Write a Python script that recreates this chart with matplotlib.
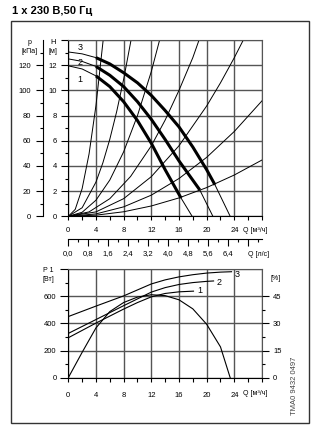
import matplotlib
matplotlib.use("Agg")

import matplotlib.pyplot as plt
from matplotlib.ticker import MultipleLocator, FixedLocator, FuncFormatter
from matplotlib.patches import Rectangle

plt.rcParams["font.family"] = ["Liberation Sans Narrow", "Liberation Sans", "DejaVu Sans"]
plt.rcParams["font.size"] = 5.5

W, H = 322, 432

# --- pump curves H(Q), Q in m3/h, H in m ---
q_c1 = [0, 2, 4, 6, 8, 10, 12, 14, 16.3, 17.9]
h_c1 = [11.95, 11.7, 11.15, 10.3, 9.1, 7.6, 5.8, 3.7, 1.45, 0]
q_c2 = [0, 2, 4, 6, 8, 10, 12, 14, 16, 19, 20.9]
h_c2 = [12.5, 12.3, 11.9, 11.2, 10.3, 9.1, 7.7, 6.1, 4.4, 2.1, 0]
q_c3 = [0, 2, 4, 6, 8, 10, 12, 14, 16, 18, 20, 21.2, 23.4]
h_c3 = [13.05, 12.9, 12.6, 12.1, 11.4, 10.6, 9.6, 8.4, 7.1, 5.5, 3.7, 2.5, 0]
# operating range (thick part) per curve
op_range = {"1": (4, 16.3), "2": (4, 19), "3": (4, 21.2)}

# --- system curves ---
sys_curves = [
    ([0, 1, 2, 3, 4, 5.04], [0, 0.55, 2.2, 4.95, 8.8, 14.0]),
    ([0, 2, 4, 5, 6, 7, 8, 9.07], [0, 0.68, 2.72, 4.25, 6.12, 8.33, 10.88, 14.0]),
    ([0, 2, 4, 6, 8, 10, 12, 13.2], [0, 0.32, 1.28, 2.88, 5.12, 8.0, 11.5, 14.0]),
    ([0, 3, 6, 9, 12, 14, 16, 18, 18.9], [0, 0.35, 1.4, 3.16, 5.6, 7.64, 10.0, 12.6, 14.0]),
    ([0, 4, 8, 12, 16, 20, 22, 24, 25.3], [0, 0.35, 1.4, 3.15, 5.6, 8.76, 10.6, 12.6, 14.0]),
    ([0, 4, 8, 12, 16, 20, 24, 28], [0, 0.19, 0.75, 1.68, 3.0, 4.68, 6.74, 9.17]),
    ([0, 4, 8, 12, 16, 20, 24, 28], [0, 0.09, 0.36, 0.82, 1.46, 2.28, 3.28, 4.47]),
]

# --- power P1(Q) in W and efficiency in % ---
q_p1 = [0, 4, 8, 10, 12, 14, 16, 18.1]
p_p1 = [294, 402, 505, 553, 595, 620, 632, 637]
q_p2 = [0, 4, 8, 10, 12, 14, 16, 18, 20, 21]
p_p2 = [326, 428, 530, 580, 630, 663, 686, 700, 709, 712]
q_p3 = [0, 4, 8, 12, 14, 16, 18, 20, 22, 23.6]
p_p3 = [450, 527, 602, 690, 720, 742, 758, 770, 777, 780]
q_eta = [0, 2, 4, 6, 8, 10, 12, 14, 16, 18, 20, 22, 23.4]
eta = [0, 14, 27.5, 36.5, 41.5, 44.5, 45.8, 45.3, 43, 38, 29.5, 17, 0]

grid_kw = dict(color="#555555", linewidth=1.0)


def fx(px):
    return px / W


def fy(py):
    return 1 - py / H


fig = plt.figure(figsize=(W / 100, H / 100), dpi=100)
fig.patches.append(Rectangle((fx(11), fy(422.7)), fx(309.3) - fx(11), fy(20.7) - fy(422.7),
                             transform=fig.transFigure, fill=False, lw=1.0, ec="#333333"))
fig.text(fx(12), fy(11), "1 x 230 В,50 Гц", fontsize=8, fontweight="bold", va="center")

# ---------------- top chart ----------------
ax = fig.add_axes([fx(68.3), fy(216.3), fx(262) - fx(68.3), fy(40) - fy(216.3)])
ax.set_xlim(0, 28)
ax.set_ylim(0, 14)
ax.set_xticks(range(0, 29, 4))
ax.set_yticks(range(0, 15, 2))
ax.xaxis.set_minor_locator(MultipleLocator(2))
ax.yaxis.set_minor_locator(MultipleLocator(1))
ax.grid(True, which="major", **grid_kw)
ax.set_axisbelow(True)
ax.set_xticklabels([str(v) if v <= 24 else "" for v in range(0, 29, 4)])
ax.set_yticklabels([str(v) if v <= 12 else "" for v in range(0, 15, 2)])
ax.tick_params(axis="x", which="both", direction="out", length=3, width=0.8, pad=5)
ax.tick_params(axis="y", which="major", direction="out", length=5, width=0.8, pad=3)
ax.tick_params(axis="y", which="minor", direction="out", length=2.2, width=0.8)
for s in ax.spines.values():
    s.set_color("#555555")
ax.spines["left"].set_color("black")
ax.spines["bottom"].set_color("black")

for qs, hs in sys_curves:
    ax.plot(qs, hs, color="black", lw=0.7)

for name, qs, hs in [("1", q_c1, h_c1), ("2", q_c2, h_c2), ("3", q_c3, h_c3)]:
    ax.plot(qs, hs, color="black", lw=0.7)
    lo, hi = op_range[name]
    qt = [q for q in qs if lo <= q <= hi]
    ht = [h for q, h in zip(qs, hs) if lo <= q <= hi]
    ax.plot(qt, ht, color="black", lw=2.2, solid_capstyle="butt")

ax.text(1.7, 13.4, "3", fontsize=6.5, ha="center", va="center")
ax.text(1.7, 12.25, "2", fontsize=6.5, ha="center", va="center")
ax.text(1.7, 10.9, "1", fontsize=6.5, ha="center", va="center")
ax.text(25.2, -1.1, "Q [м³/ч]", fontsize=5, ha="left", va="center")

# pressure axis (kPa)
pax = ax.secondary_yaxis(-0.129, functions=(lambda h: h * 10, lambda p: p / 10))
pax.set_yticks(range(0, 121, 20))
pax.yaxis.set_minor_locator(FixedLocator(range(10, 131, 20)))
pax.tick_params(which="major", direction="out", length=5, width=0.8, pad=4)
pax.tick_params(which="minor", direction="out", length=2.2, width=0.8)

fig.text(fx(29.3), fy(42.5), "p", fontsize=5, ha="center", va="center")
fig.text(fx(29.3), fy(51.5), "[кПа]", fontsize=5, ha="center", va="center")
fig.text(fx(52.7), fy(42.5), "H", fontsize=5.5, ha="center", va="center")
fig.text(fx(52.7), fy(51.5), "[м]", fontsize=5, ha="center", va="center")

# flow axis in l/s
lax = ax.secondary_xaxis(-0.127, functions=(lambda q: q / 3.6, lambda l: l * 3.6))
lax.set_xticks([i * 0.8 for i in range(10)])
lax.xaxis.set_minor_locator(MultipleLocator(0.4))
lax.xaxis.set_major_formatter(FuncFormatter(
    lambda v, p: f"{v:.1f}".replace(".", ",") if v < 6.5 else ""))
lax.tick_params(which="major", direction="out", length=5, width=0.8, pad=3)
lax.tick_params(which="minor", direction="out", length=2.5, width=0.8)
fig.text(fx(259), fy(255), "Q [л/с]", fontsize=5, ha="center", va="center")

# ---------------- bottom chart ----------------
axb = fig.add_axes([fx(68.3), fy(377.7), fx(262) - fx(68.3), fy(269) - fy(377.7)])
axb.set_xlim(0, 28)
axb.set_ylim(0, 800)
axb.set_xticks(range(0, 29, 4))
axb.set_yticks(range(0, 801, 200))
axb.xaxis.set_minor_locator(MultipleLocator(2))
axb.yaxis.set_minor_locator(MultipleLocator(100))
axb.grid(True, which="major", **grid_kw)
axb.set_axisbelow(True)
axb.set_xticklabels([str(v) if v <= 24 else "" for v in range(0, 29, 4)])
axb.set_yticklabels([str(v) if v <= 600 else "" for v in range(0, 801, 200)])
axb.tick_params(axis="x", which="both", direction="out", length=3, width=0.8, pad=7)
axb.tick_params(axis="y", which="major", direction="out", length=5.5, width=0.8, pad=3)
axb.tick_params(axis="y", which="minor", direction="out", length=2.2, width=0.8)
for s in axb.spines.values():
    s.set_color("#555555")
axb.spines["left"].set_color("black")
axb.spines["bottom"].set_color("black")

axb.plot(q_p1, p_p1, color="black", lw=0.8)
axb.plot(q_p2, p_p2, color="black", lw=0.8)
axb.plot(q_p3, p_p3, color="black", lw=0.8)
axb.text(19.0, 640, "1", fontsize=6.5, ha="center", va="center")
axb.text(21.8, 700, "2", fontsize=6.5, ha="center", va="center")
axb.text(24.4, 760, "3", fontsize=6.5, ha="center", va="center")
axb.text(25.2, -115, "Q [м³/ч]", fontsize=5, ha="left", va="center", clip_on=False)

ax2 = axb.twinx()
ax2.set_ylim(0, 60)
ax2.set_yticks([0, 15, 30, 45])
ax2.yaxis.set_minor_locator(FixedLocator([7.5, 22.5, 37.5]))
ax2.tick_params(which="major", direction="out", length=5, width=0.8, pad=3)
ax2.tick_params(which="minor", direction="out", length=2.2, width=0.8)
for s in ax2.spines.values():
    s.set_visible(False)
ax2.plot(q_eta, eta, color="black", lw=0.8)

fig.text(fx(48.3), fy(270), "P 1", fontsize=5, ha="center", va="center")
fig.text(fx(48.3), fy(279.3), "[Вт]", fontsize=5, ha="center", va="center")
fig.text(fx(276), fy(279), "[%]", fontsize=5, ha="center", va="center")

fig.text(fx(294), fy(386), "TMA0 9432 0497", fontsize=5.5, rotation=90,
         ha="center", va="center", color="#444444")

fig.savefig("out.png", dpi=100)
